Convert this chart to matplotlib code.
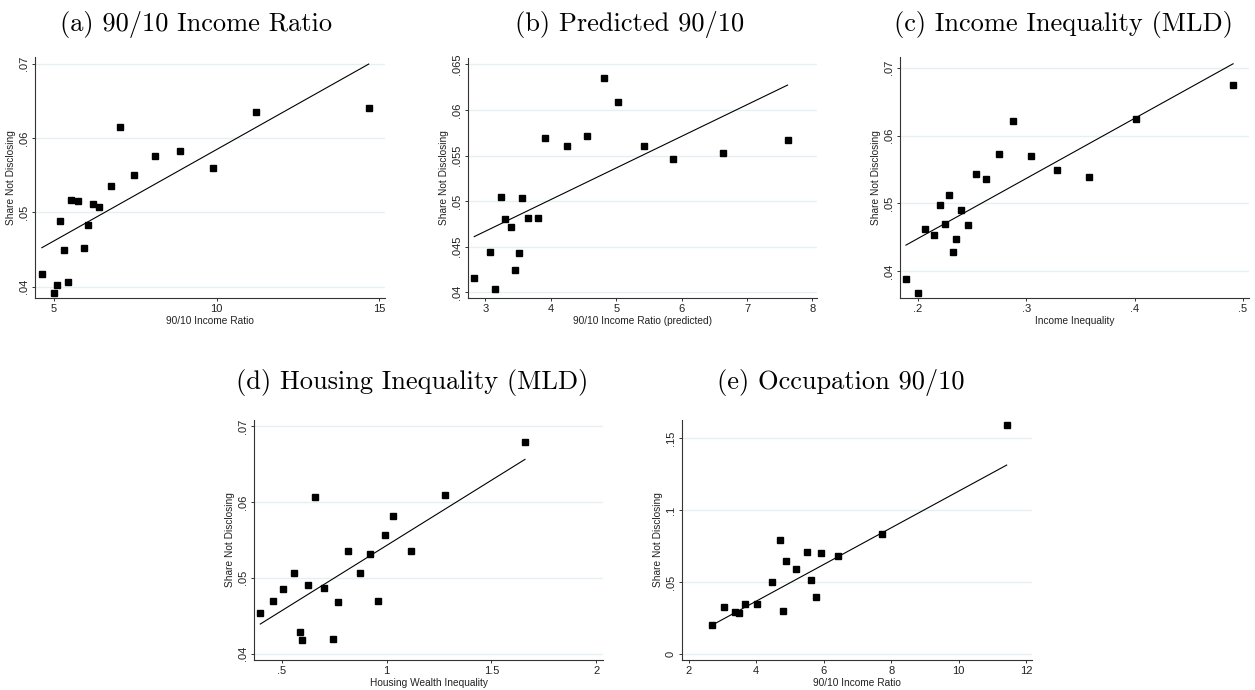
import numpy as np
import matplotlib
matplotlib.use("Agg")
import matplotlib.pyplot as plt

# State-level share not disclosing vs. inequality measures
inc_ratio = [4.63, 5.00, 5.09, 5.18, 5.31, 5.43, 5.52, 5.74, 5.92, 6.04,
             6.20, 6.38, 6.75, 7.03, 7.46, 8.10, 8.87, 9.88, 11.20, 14.67]
share_a = [.0417, .0392, .0402, .0488, .0449, .0407, .0517, .0515, .0452, .0483,
           .0511, .0508, .0535, .0615, .0550, .0576, .0583, .0560, .0635, .0641]

pred_ratio = [2.83, 3.07, 3.15, 3.24, 3.30, 3.39, 3.45, 3.52, 3.56, 3.65,
              3.81, 3.91, 4.25, 4.56, 4.82, 5.03, 5.43, 5.87, 6.64, 7.62]
share_b = [.0416, .0444, .0404, .0505, .0480, .0472, .0424, .0443, .0503, .0482,
           .0482, .0569, .0560, .0572, .0635, .0609, .0560, .0546, .0553, .0567]

income_mld = [.1889, .2000, .2065, .2148, .2203, .2249, .2286, .2323, .2351, .2397,
              .2462, .2535, .2628, .2748, .2877, .3043, .3283, .3578, .4012, .4908]
share_c = [.0389, .0368, .0463, .0454, .0497, .0469, .0512, .0428, .0447, .0490,
           .0468, .0543, .0536, .0573, .0622, .0570, .0549, .0539, .0625, .0675]

housing_mld = [.398, .460, .508, .560, .589, .598, .627, .660, .703, .746,
               .770, .817, .875, .922, .960, .994, 1.032, 1.117, 1.279, 1.660]
share_d = [.0453, .0469, .0485, .0506, .0428, .0418, .0490, .0606, .0486, .0419,
           .0468, .0536, .0507, .0531, .0469, .0556, .0582, .0535, .0609, .0679]

occ_ratio = [2.68, 3.04, 3.36, 3.48, 3.66, 4.01, 4.46, 4.69, 4.78, 4.87,
             5.17, 5.49, 5.61, 5.76, 5.91, 6.41, 7.72, 11.42]
share_e = [.0197, .0323, .0288, .0281, .0344, .0344, .0497, .0790, .0295, .0643,
           .0588, .0706, .0511, .0392, .0699, .0678, .0831, .1591]

# fitted values (weighted linear fit) at the smallest and largest x
fit_a = [.04526, .06995]
fit_b = [.04611, .06273]
fit_c = [.04385, .07060]
fit_d = [.04391, .06561]
fit_e = [.01974, .13140]

titles = ["(a) 90/10 Income Ratio", "(b) Predicted 90/10",
          "(c) Income Inequality (MLD)", "(d) Housing Inequality (MLD)",
          "(e) Occupation 90/10"]
xlabels = ["90/10 Income Ratio", "90/10 Income Ratio (predicted)",
           "Income Inequality", "Housing Wealth Inequality", "90/10 Income Ratio"]
ylabel = "Share Not Disclosing"

xticks = [[5, 10, 15], [3, 4, 5, 6, 7, 8], [.2, .3, .4, .5],
          [.5, 1, 1.5, 2], [2, 4, 6, 8, 10, 12]]
xticklabels = [["5", "10", "15"], ["3", "4", "5", "6", "7", "8"],
               [".2", ".3", ".4", ".5"], [".5", "1", "1.5", "2"],
               ["2", "4", "6", "8", "10", "12"]]
yticks = [[.04, .05, .06, .07], [.04, .045, .05, .055, .06, .065],
          [.04, .05, .06, .07], [.04, .05, .06, .07], [0, .05, .1, .15]]
yticklabels = [[".04", ".05", ".06", ".07"],
               [".04", ".045", ".05", ".055", ".06", ".065"],
               [".04", ".05", ".06", ".07"], [".04", ".05", ".06", ".07"],
               ["0", ".05", ".1", ".15"]]

panels = [(inc_ratio, share_a, fit_a), (pred_ratio, share_b, fit_b),
          (income_mld, share_c, fit_c), (housing_mld, share_d, fit_d),
          (occ_ratio, share_e, fit_e)]

W, H = 1255, 690
# axes boxes in pixels: left, right, top, bottom
boxes = [(35, 385, 57, 298), (468, 817, 58, 298), (900, 1249, 57, 298),
         (254, 603, 420, 660), (682, 1032, 420, 660)]
title_pos = [(196, 25), (630, 25), (1064, 25), (412, 383), (841, 383)]
xlims = [(4.42, 15.17), (2.735, 8.07), (.1834, .5055), (.368, 2.032), (1.80, 12.17)]
ylims = [(.0385, .0709), (.03938, .0657), (.03605, .0716), (.03917, .0708), (-.0044, .1628)]

fig = plt.figure(figsize=(W / 100, H / 100), dpi=100)
fig.patch.set_facecolor("white")

for i, (x, y, fit) in enumerate(panels):
    l, r, t, b = boxes[i]
    ax = fig.add_axes([l / W, 1 - b / H, (r - l) / W, (b - t) / H])
    x = np.asarray(x)

    for yt in yticks[i]:
        ax.axhline(yt, color="#e6eff1", lw=1.0, zorder=0)

    ax.plot(x, y, "s", color="black", markersize=4.3, zorder=3)
    ax.plot([x.min(), x.max()], fit, color="black", lw=0.8, zorder=2)

    ax.set_xlim(*xlims[i])
    ax.set_ylim(*ylims[i])
    ax.set_xticks(xticks[i])
    ax.set_xticklabels(xticklabels[i], fontsize=8, family="Liberation Sans")
    ax.set_yticks(yticks[i])
    ax.set_yticklabels(yticklabels[i], fontsize=8, family="Liberation Sans",
                       rotation=90, va="center")
    ax.tick_params(length=2.5, width=0.7, color="#333333", pad=2, labelcolor="#222222")
    for side in ["top", "right"]:
        ax.spines[side].set_visible(False)
    for side in ["left", "bottom"]:
        ax.spines[side].set_color("#333333")
        ax.spines[side].set_linewidth(0.8)
    ax.set_xlabel(xlabels[i], fontsize=7.3, family="Liberation Sans",
                  color="#222222", labelpad=1)
    ax.set_ylabel(ylabel, fontsize=7.3, family="Liberation Sans",
                  color="#222222", labelpad=2)

    tx, ty = title_pos[i]
    fig.text(tx / W, 1 - ty / H, titles[i], ha="center", va="center",
             fontsize=19, family="cmr10")

fig.savefig("out.png", dpi=100, facecolor="white")
